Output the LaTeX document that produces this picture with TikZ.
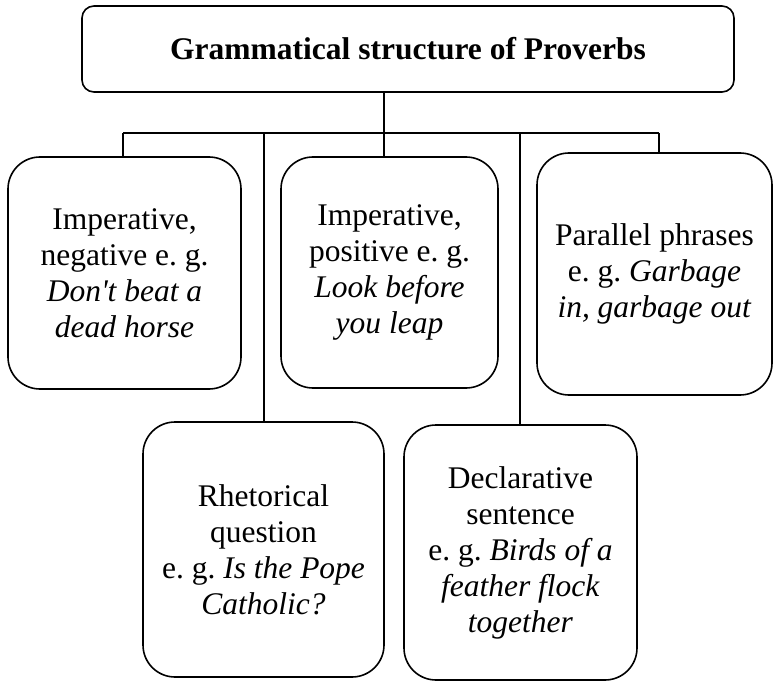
\documentclass[tikz,border=0pt]{standalone}
\usepackage{fontspec}
\setmainfont{Liberation Serif}[Ligatures=TeXOff]
\begin{document}
\frenchspacing
\begin{tikzpicture}[x=1pt,y=-1pt,
  cat/.style={draw, line width=1.6pt, rounded corners=32pt, align=center,
    inner sep=0pt, font=\fontsize{31.5}{36}\selectfont},
  title/.style={draw, line width=1.6pt, rounded corners=12pt, align=center,
    inner sep=0pt, font=\fontsize{31.5}{36}\selectfont\bfseries},
  link/.style={line width=1.5pt}]
\useasboundingbox (0,0) rectangle (774,682);
\fill[white] (0,0) rectangle (774,682);

% heading
\node[title, minimum width=652pt, minimum height=86pt] (top) at (408,49)
  {Grammatical structure of Proverbs};

% upper row
\node[cat, minimum width=233pt, minimum height=232pt] (neg) at (124.5,273)
  {Imperative,\\negative e. g.\\\textit{Don't beat a}\\\textit{dead horse}};
\node[cat, minimum width=217pt, minimum height=231pt] (pos) at (389.5,272.5)
  {Imperative,\\positive e. g.\\\textit{Look before}\\\textit{you leap}};
\node[cat, minimum width=235pt, minimum height=242pt] (par) at (654.5,274)
  {Parallel phrases\\e. g. \textit{Garbage}\\\textit{in, garbage out}};

% lower row
\node[cat, minimum width=241pt, minimum height=255pt] (rhe) at (263.5,549.5)
  {Rhetorical\\question\\e. g. \textit{Is the Pope}\\\textit{Catholic?}};
\node[cat, minimum width=233pt, minimum height=255pt] (dec) at (520.5,552.5)
  {Declarative\\sentence\\e. g. \textit{Birds of a}\\\textit{feather flock}\\\textit{together}};

% branching lines: horizontal bar and the points where each branch leaves it
\coordinate (j1) at (123,133);
\coordinate (j2) at (264,133);
\coordinate (j3) at (384,133);
\coordinate (j4) at (520,133);
\coordinate (j5) at (659,133);
\draw[link] (j1) -- (j5);
\draw[link] (j3 |- top.south) -- (j3 |- pos.north);
\draw[link] (j1) -- (j1 |- neg.north);
\draw[link] (j2) -- (j2 |- rhe.north);
\draw[link] (j4) -- (j4 |- dec.north);
\draw[link] (j5) -- (j5 |- par.north);
\end{tikzpicture}
\end{document}
